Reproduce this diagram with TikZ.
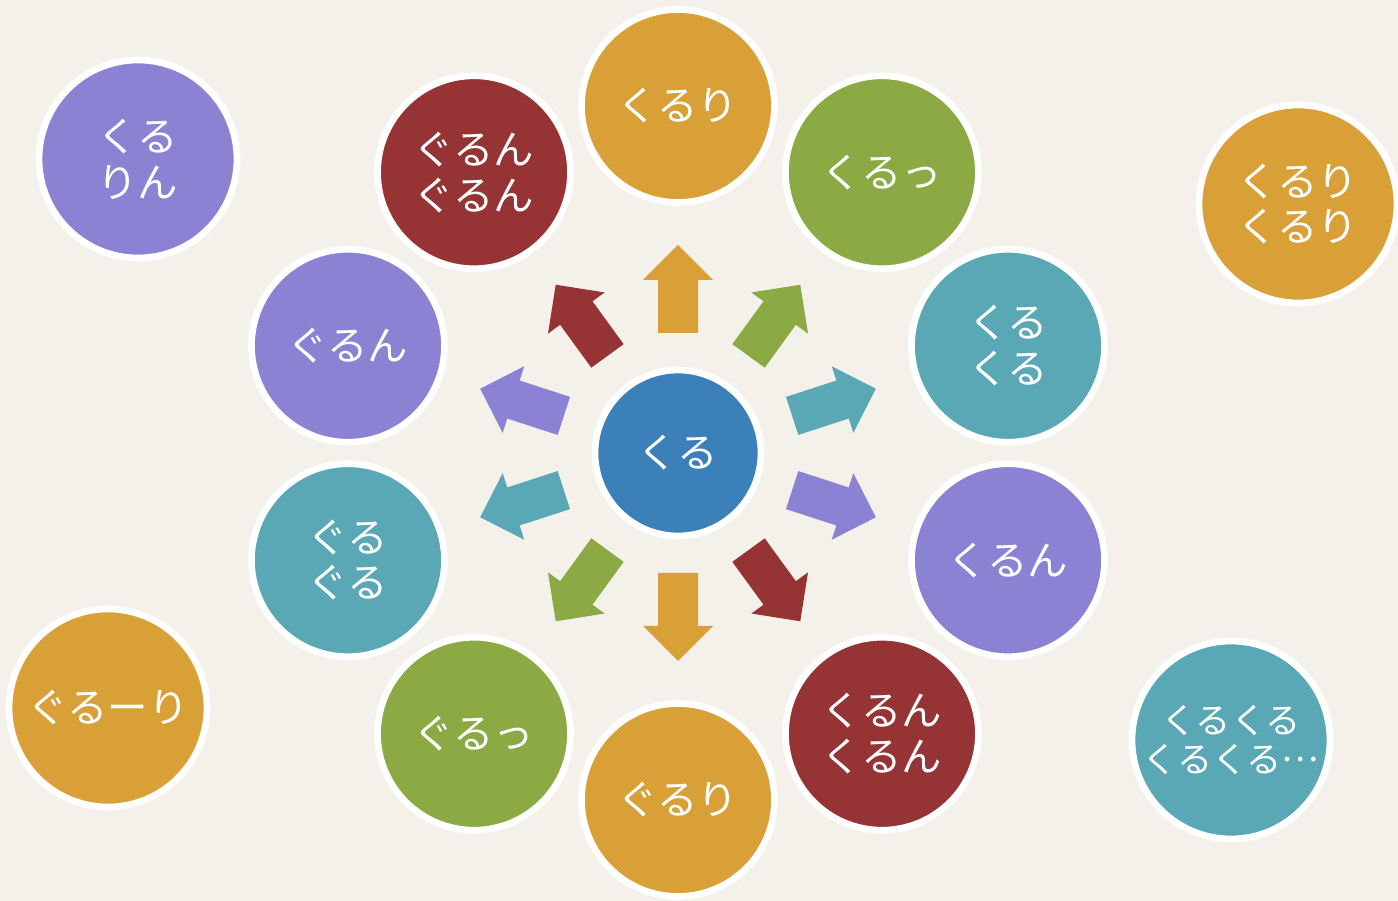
\documentclass[tikz,border=0pt]{standalone}
\usepackage{fontspec}
\newfontfamily\jpfont{Noto Sans CJK JP}
\usetikzlibrary{positioning}

\definecolor{paper}{HTML}{F3F1EA}
\definecolor{kOrange}{HTML}{D9A038}
\definecolor{kGreen}{HTML}{8BAA43}
\definecolor{kTeal}{HTML}{5AA8B5}
\definecolor{kPurple}{HTML}{8B82D3}
\definecolor{kRed}{HTML}{953335}
\definecolor{kBlue}{HTML}{3B80B9}

\tikzset{
  bubble/.style={circle, draw=white, line width=3.8pt, text=white, align=center,
    inner sep=0pt, font=\jpfont\fontsize{23}{26}\selectfont},
  ring/.style={bubble, minimum size=3.86cm},
  corner/.style={bubble, minimum size=3.96cm},
  hub/.style={bubble, fill=kBlue, minimum size=3.32cm}
}

\begin{document}
\begin{tikzpicture}[x=0.02cm, y=0.02cm]
  \useasboundingbox (-678,-448) rectangle (720,453);
  \fill[paper] (-678,-448) rectangle (720,453);

  % centre
  \node[hub] (kuru) at (0,0) {くる};

  % ring of words and arrows
  \foreach \ang/\col/\name/\txt in {
      90/kOrange/kururi/{くるり},
      54/kGreen/kurut/{くるっ},
      18/kTeal/kurukuru/{くる\\くる},
      -18/kPurple/kurun/{くるん},
      -54/kRed/kurunkurun/{くるん\\くるん},
      -90/kOrange/gururi/{ぐるり},
      -126/kGreen/gurut/{ぐるっ},
      -162/kTeal/guruguru/{ぐる\\ぐる},
      162/kPurple/gurun/{ぐるん},
      126/kRed/gurungurun/{ぐるん\\ぐるん}} {
    \node[ring, fill=\col] (\name) at (\ang:347) {\txt};
    \fill[\col, rotate=\ang] (120,-20) -- (173,-20) -- (173,-35) -- (208,0)
      -- (173,35) -- (173,20) -- (120,20) -- cycle;
  }

  % corners
  \node[corner, fill=kPurple] (kururin) at (-540,294) {くる\\りん};
  \node[corner, fill=kOrange] (kururikururi) at (620,249) {くるり\\くるり};
  \node[corner, fill=kOrange] (guruuri) at (-570,-255) {ぐるーり};
  \node[corner, fill=kTeal, font=\jpfont\fontsize{20}{22}\selectfont] (kurukuruetc)
    at (553,-287) {くるくる\\くるくる\raisebox{0.3em}[0pt][0pt]{…}};
\end{tikzpicture}
\end{document}
